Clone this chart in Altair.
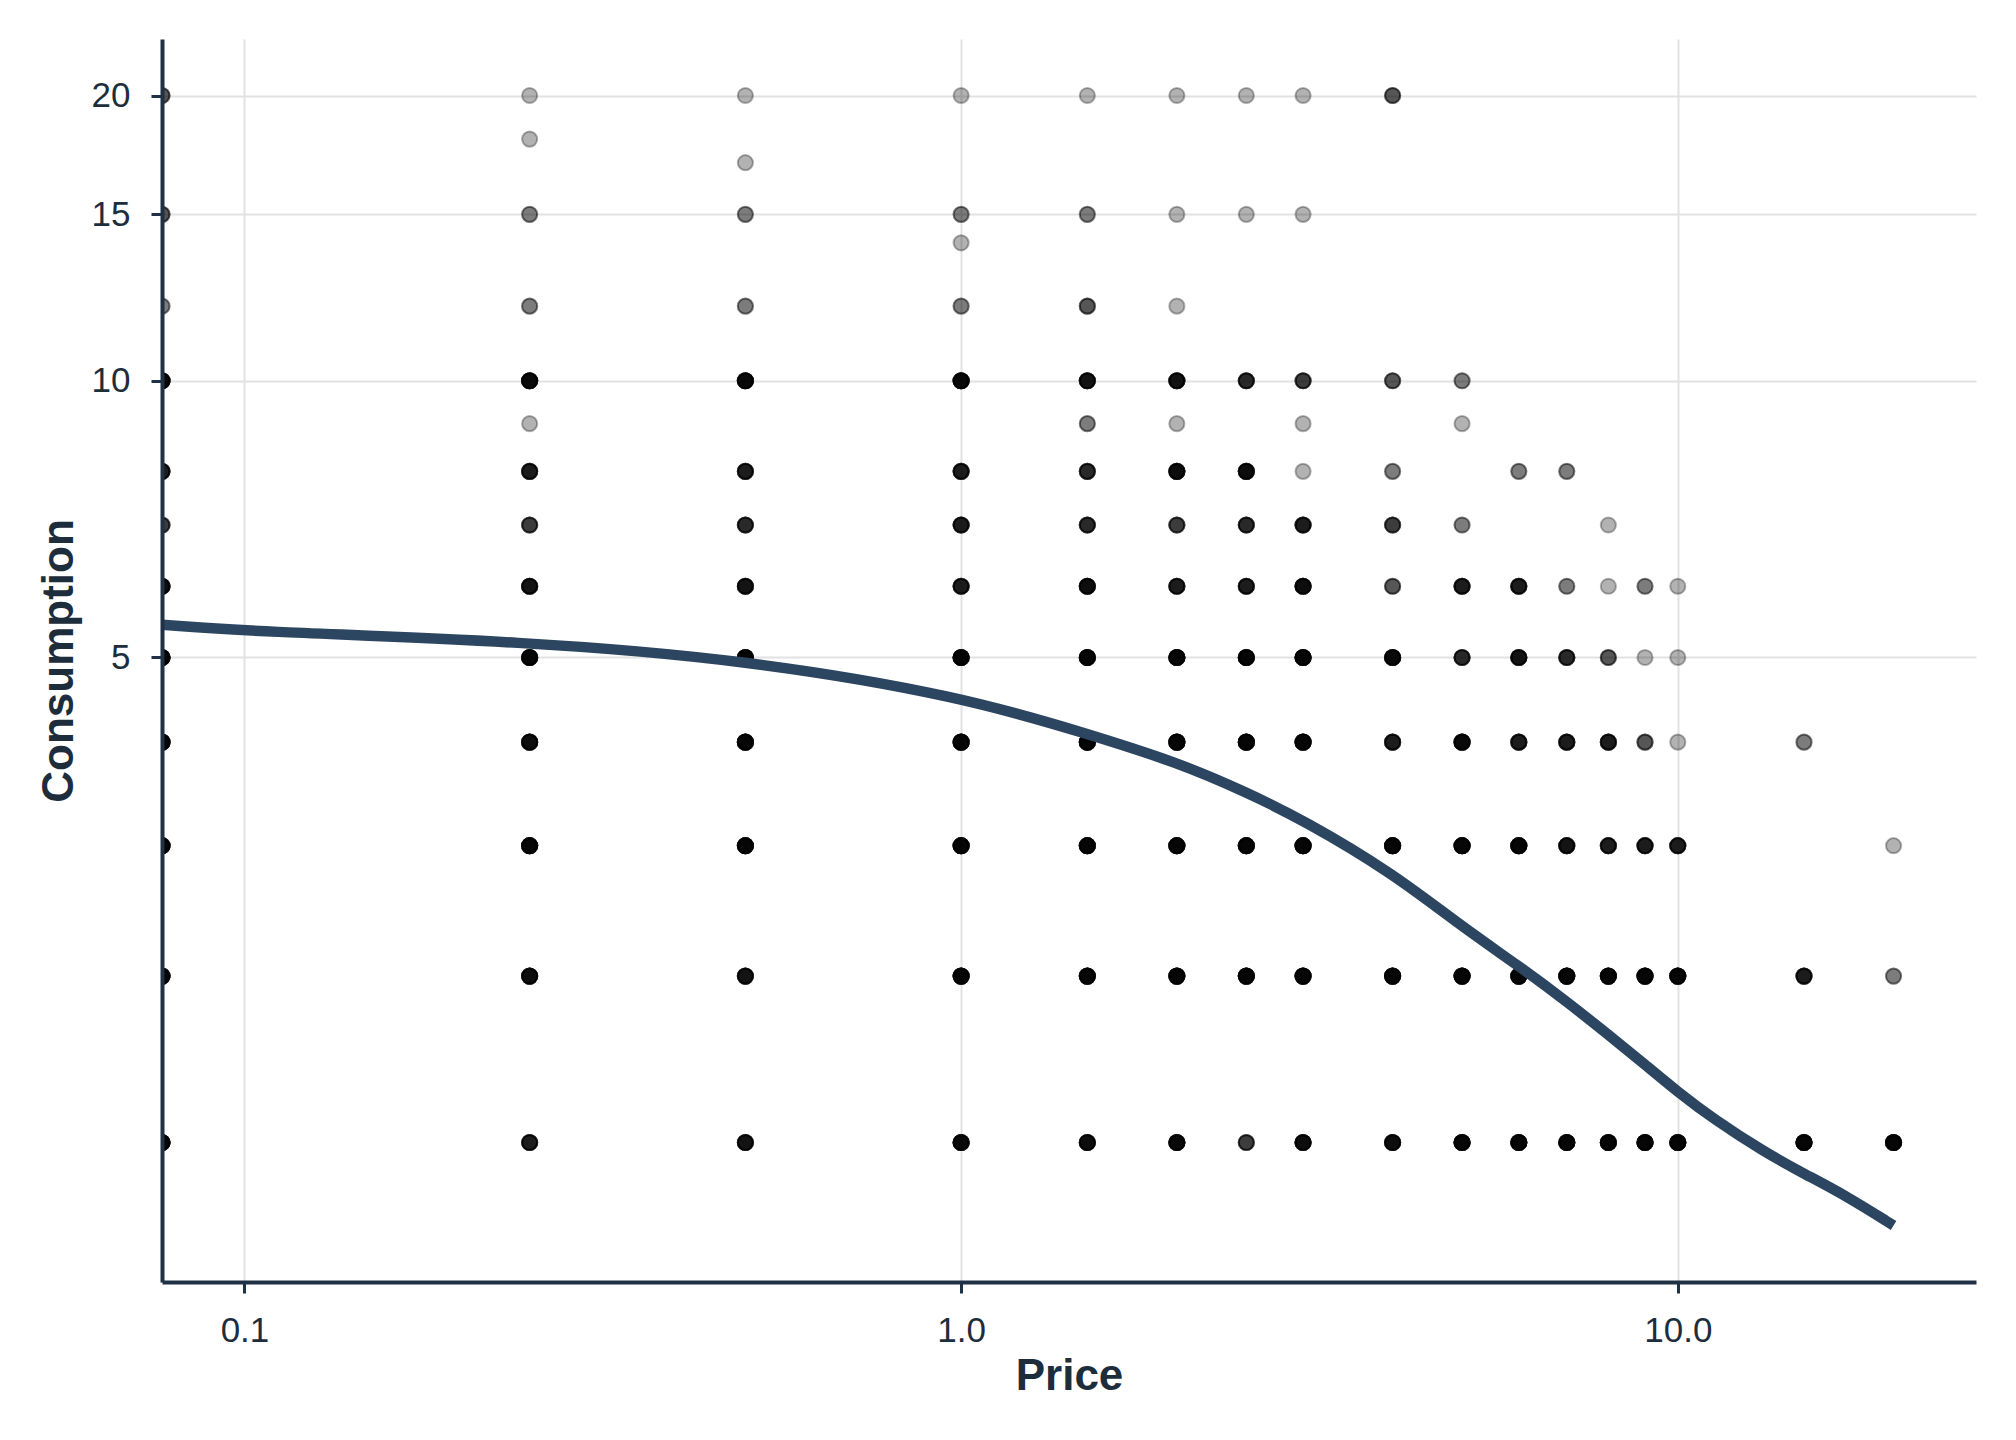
import math
import altair as alt
import pandas as pd

# ---- observed responses ----------------------------------------------------
# price levels shown on the x axis (0 is drawn at the left edge, as -Inf on a log axis)
price_levels = [0, 0.25, 0.5, 1, 1.5, 2, 2.5, 3, 4, 5, 6, 7, 8, 9, 10, 15, 20]

# consumption values reported at each price
consumption_at_price = [
    [20, 15, 12, 10, 8, 7, 6, 5, 4, 3, 2, 1],
    [20, 18, 15, 12, 10, 9, 8, 7, 6, 5, 4, 3, 2, 1],
    [20, 17, 15, 12, 10, 8, 7, 6, 5, 4, 3, 2, 1],
    [20, 15, 14, 12, 10, 8, 7, 6, 5, 4, 3, 2, 1],
    [20, 15, 12, 10, 9, 8, 7, 6, 5, 4, 3, 2, 1],
    [20, 15, 12, 10, 9, 8, 7, 6, 5, 4, 3, 2, 1],
    [20, 15, 10, 8, 7, 6, 5, 4, 3, 2, 1],
    [20, 15, 10, 9, 8, 7, 6, 5, 4, 3, 2, 1],
    [20, 10, 8, 7, 6, 5, 4, 3, 2, 1],
    [10, 9, 7, 6, 5, 4, 3, 2, 1],
    [8, 6, 5, 4, 3, 2, 1],
    [8, 6, 5, 4, 3, 2, 1],
    [7, 6, 5, 4, 3, 2, 1],
    [6, 5, 4, 3, 2, 1],
    [6, 5, 4, 3, 2, 1],
    [4, 2, 1],
    [3, 2, 1],
]

# number of respondents at each (price, consumption) point (estimated from darkness)
count_at_price = [
    [3, 3, 2, 9, 6, 4, 8, 10, 10, 10, 10, 10],
    [1, 1, 2, 2, 9, 1, 6, 4, 7, 10, 8, 10, 8, 6],
    [1, 1, 2, 2, 9, 6, 5, 7, 10, 10, 10, 7, 7],
    [1, 2, 1, 2, 9, 6, 6, 6, 10, 10, 10, 10, 9],
    [1, 2, 3, 7, 2, 5, 5, 8, 10, 10, 10, 10, 8],
    [1, 1, 1, 7, 1, 8, 4, 6, 10, 10, 10, 10, 9],
    [1, 1, 5, 8, 5, 6, 10, 10, 10, 10, 4],
    [1, 1, 4, 1, 1, 6, 8, 10, 10, 10, 10, 8],
    [3, 3, 2, 4, 3, 9, 6, 10, 10, 8],
    [2, 1, 2, 6, 5, 9, 10, 10, 10],
    [2, 6, 7, 6, 10, 10, 10],
    [2, 2, 5, 6, 7, 10, 10],
    [1, 1, 3, 6, 6, 10, 10],
    [2, 1, 3, 6, 10, 10],
    [1, 1, 1, 6, 10, 10],
    [2, 6, 10],
    [1, 2, 10],
]

# ---- fitted demand curve ----------------------------------------------------
curve_price = [0, 0.1, 0.25, 0.5, 1, 1.5, 2, 2.5, 3, 4, 5, 6, 7, 8, 9, 10,
               11.2, 13.2, 15, 17.2, 20]
curve_consumption = [5.44, 5.35, 5.21, 4.97, 4.52, 4.09, 3.79, 3.49, 3.23, 2.77,
                     2.35, 2.07, 1.83, 1.62, 1.44, 1.28, 1.13, 0.95, 0.835, 0.72,
                     0.571]

x_ticks = [0.1, 1, 10]
y_tick_labels = [5, 10, 15, 20]

# ---- tables -----------------------------------------------------------------
rows = []
for p, qs, ns in zip(price_levels, consumption_at_price, count_at_price):
    for q, n in zip(qs, ns):
        for _ in range(n):
            rows.append({"Price": p, "Consumption": q})
obs_df = pd.DataFrame(rows)
curve_df = pd.DataFrame({"Price": curve_price, "Consumption": curve_consumption})

# pseudo-log (asinh(y/2)) transform of consumption, as in the original chart
def pseudo(v):
    return math.asinh(v / 2.0)

all_q = list(obs_df["Consumption"]) + curve_consumption
t_lo, t_hi = pseudo(min(all_q)), pseudo(max(all_q))
t_pad = 0.05 * (t_hi - t_lo)
y_domain = [t_lo - t_pad, t_hi + t_pad]

pos_prices = [p for p in curve_price if p > 0]
l_lo, l_hi = math.log10(min(pos_prices)), math.log10(max(pos_prices))
l_pad = 0.05 * (l_hi - l_lo)
x_domain = [10 ** (l_lo - l_pad), 10 ** (l_hi + l_pad)]

y_tick_values = [pseudo(v) for v in y_tick_labels]

TEXT = "#1e2d3c"
AXIS = "#1f3145"
FONT = "Liberation Sans"
t_expr = "log(datum.Consumption / 2 + sqrt(datum.Consumption * datum.Consumption / 4 + 1))"

x_scale = alt.Scale(type="log", domain=x_domain, clamp=True, nice=False)
y_scale = alt.Scale(domain=y_domain, nice=False, zero=False)

grid_x = alt.Axis(values=x_ticks, grid=True, gridColor="#e2e2e2", gridWidth=2,
                  domain=False, ticks=False, labels=False, title=None,
                  zindex=0, orient="bottom")
grid_y = alt.Axis(values=y_tick_values, grid=True, gridColor="#e2e2e2", gridWidth=2,
                  domain=False, ticks=False, labels=False, title=None,
                  zindex=0, orient="left")

main_x = alt.Axis(values=x_ticks, format=".1f", grid=False, orient="bottom", zindex=1,
                  domainColor=AXIS, domainWidth=4, tickColor=AXIS, tickWidth=3,
                  tickSize=11, labelFontSize=35, labelColor=TEXT, labelFont=FONT,
                  labelPadding=20, title="Price", titleFontSize=44,
                  titleFontWeight="bold", titleColor=TEXT, titleFont=FONT,
                  titlePadding=6)
main_y = alt.Axis(values=y_tick_values,
                  labelExpr="'' + round(exp(datum.value) - exp(-datum.value))",
                  grid=False, orient="left", zindex=1,
                  domainColor=AXIS, domainWidth=4, tickColor=AXIS, tickWidth=3,
                  tickSize=11, labelFontSize=35, labelColor=TEXT, labelFont=FONT,
                  labelPadding=21, title="Consumption", titleFontSize=44,
                  titleFontWeight="bold", titleColor=TEXT, titleFont=FONT,
                  titlePadding=10)

points = alt.Chart(obs_df).transform_calculate(
    px="max(datum.Price, 1e-6)", ty=t_expr
).mark_circle(
    size=230, color="black", opacity=1, fillOpacity=0.3,
    stroke="black", strokeOpacity=0.3, strokeWidth=2, clip=True
).encode(
    x=alt.X("px:Q", scale=x_scale, axis=grid_x),
    y=alt.Y("ty:Q", scale=y_scale, axis=grid_y),
)

line = alt.Chart(curve_df).transform_calculate(
    px="max(datum.Price, 1e-6)", ty=t_expr
).mark_line(
    color="#2c4560", strokeWidth=10.5, interpolate="basis", clip=True
).encode(
    x=alt.X("px:Q", scale=x_scale, axis=main_x),
    y=alt.Y("ty:Q", scale=y_scale, axis=main_y),
)

chart = alt.layer(points, line).resolve_axis(
    x="independent", y="independent"
).properties(
    width=1814, height=1243,
    padding={"left": 154, "top": 31, "right": 32, "bottom": 140},
    autosize=alt.AutoSizeParams(type="none"),
    background="white",
).configure_view(strokeWidth=0)

chart.save("out.html", embed_options={"renderer": "svg", "actions": False})
